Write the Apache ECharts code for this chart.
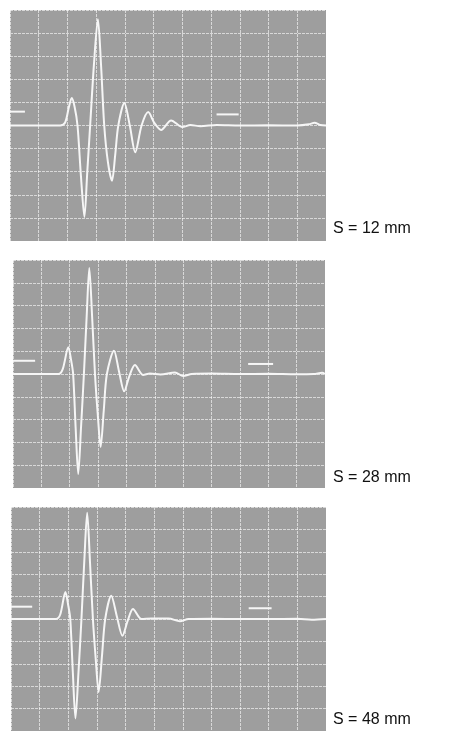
<!DOCTYPE html>
<html><head><meta charset="utf-8">
<script src="https://cdn.jsdelivr.net/npm/echarts@6/dist/echarts.min.js"></script>
<style>html,body{margin:0;padding:0;background:#fff}#c{width:450px;height:732px}</style>
</head><body><div id="c"></div>
<script>
// Labels of the three traces
const labels = ['S = 12 mm', 'S = 28 mm', 'S = 48 mm'];

// Trace S = 12 mm (x in divisions, y in divisions)
const t12 = [0, 1.0, 1.75, 1.92, 2.05, 2.15, 2.25, 2.35, 2.47, 2.59, 2.69, 2.79, 2.92, 3.06, 3.17, 3.28, 3.41, 3.55, 3.66, 3.77, 3.98, 4.17, 4.36, 4.58, 4.81, 5.03, 5.26, 5.61, 6.0, 6.28, 6.63, 7.2, 8.0, 9.0, 10.0, 10.4, 10.6, 10.8, 11];
const v12 = [0, 0, 0, 0.13, 0.8, 1.19, 0.8, 0, -2.2, -3.96, -2.0, 0, 2.6, 4.6, 2.6, 0, -1.6, -2.39, -1.3, 0, 0.97, 0, -1.16, 0, 0.58, 0.1, -0.19, 0.22, -0.07, 0.02, -0.03, 0.02, 0, 0.01, 0, 0.05, 0.12, 0.02, 0];

// Trace S = 28 mm
const t28 = [0, 1.6, 1.75, 1.95, 2.05, 2.12, 2.21, 2.30, 2.40, 2.50, 2.60, 2.69, 2.79, 2.89, 2.99, 3.09, 3.20, 3.31, 3.56, 3.74, 3.92, 4.10, 4.30, 4.59, 4.83, 5.2, 5.71, 6.0, 6.3, 7, 8, 9, 10, 10.6, 10.9, 11];
const v28 = [0, 0, 0.2, 1.17, 0.6, 0, -2.4, -4.39, -2.3, 0, 2.6, 4.65, 2.5, 0, -1.8, -3.2, -1.6, 0, 1.02, 0.1, -0.76, -0.1, 0.39, -0.04, 0.02, -0.02, 0.07, -0.09, 0, 0.02, 0, 0.01, -0.01, 0, 0.05, 0];

// Trace S = 48 mm
const t48 = [0, 1.57, 1.72, 1.90, 2.0, 2.07, 2.16, 2.25, 2.36, 2.46, 2.56, 2.66, 2.76, 2.86, 2.96, 3.06, 3.18, 3.29, 3.50, 3.70, 3.89, 4.07, 4.26, 4.56, 4.9, 5.5, 5.9, 6.2, 7, 8, 9, 10, 10.5, 11];
const v48 = [0, 0, 0.2, 1.2, 0.6, 0, -2.4, -4.44, -2.3, 0, 2.6, 4.74, 2.5, 0, -1.8, -3.26, -1.6, 0, 1.04, 0.1, -0.75, -0.1, 0.45, 0, 0.02, 0.02, -0.1, 0, 0.01, 0, 0, 0.01, -0.03, 0];

// Reference marks: [xStart, xEnd, level]
const markLeft = [[0, 0.52, 0.6], [0, 0.78, 0.58], [0, 0.74, 0.55]];
const markRight = [[7.19, 7.96, 0.48], [8.29, 9.17, 0.44], [8.3, 9.1, 0.48]];

const times = [t12, t28, t48];
const volts = [v12, v28, v48];

const gridPos = [
  {left: 10, top: 10, width: 316, height: 231},
  {left: 13, top: 260, width: 312, height: 228},
  {left: 11, top: 507, width: 315, height: 224}
];
const labelY = [230, 479, 721];

const gridLine = {show: true, lineStyle: {color: 'rgba(255,255,255,0.6)', width: 1, type: [3, 1]}};

const grid = [], xAxis = [], yAxis = [], series = [], graphic = [];
for (let i = 0; i < 3; i++) {
  grid.push(Object.assign({show: true, backgroundColor: '#9e9e9e', borderWidth: 0}, gridPos[i]));
  xAxis.push({type: 'value', gridIndex: i, min: 0, max: 11, interval: 1,
    axisLine: {show: false}, axisTick: {show: false}, axisLabel: {show: false}, splitLine: gridLine});
  yAxis.push({type: 'value', gridIndex: i, min: -5, max: 5, interval: 1,
    axisLine: {show: false}, axisTick: {show: false}, axisLabel: {show: false}, splitLine: gridLine});
  series.push({type: 'line', xAxisIndex: i, yAxisIndex: i, smooth: 0.3, showSymbol: false, symbol: 'none',
    lineStyle: {color: '#f6f6f6', width: 2}, animation: false,
    data: times[i].map((t, k) => [t, volts[i][k]])});
  [markLeft[i], markRight[i]].forEach(m => {
    series.push({type: 'line', xAxisIndex: i, yAxisIndex: i, showSymbol: false, symbol: 'none',
      lineStyle: {color: '#f6f6f6', width: 2}, animation: false,
      data: [[m[0], m[2]], [m[1], m[2]]]});
  });
  graphic.push({type: 'text', left: 333, top: labelY[i] - 9,
    style: {text: labels[i], fill: '#111', font: '16px "Liberation Sans", Arial, sans-serif'}});
}

const chart = echarts.init(document.getElementById('c'), null, {renderer: 'canvas'});
chart.setOption({animation: false, backgroundColor: '#fff', grid, xAxis, yAxis, series, graphic});
</script>
</body></html>
